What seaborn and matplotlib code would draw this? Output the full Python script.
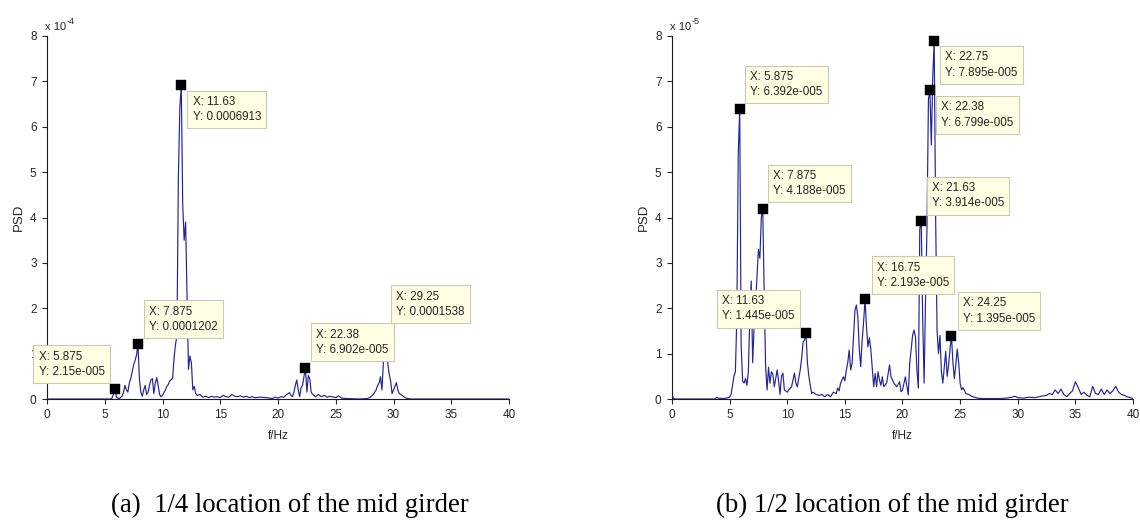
import matplotlib
matplotlib.use("Agg")
import matplotlib.pyplot as plt
from matplotlib.transforms import offset_copy
import numpy as np
import pandas as pd
import seaborn as sns

sns.set_style("ticks")
plt.rcParams["font.family"] = ["Liberation Sans", "DejaVu Sans"]

# ---------------- data: panel (a), PSD in units of 1e-4 ----------------
freq_a = [0.0, 5.5, 5.625, 5.75, 5.875, 6.0, 6.125, 6.25, 6.5, 6.625, 6.75, 6.875,
          7.0, 7.125, 7.25, 7.375, 7.5, 7.625, 7.75, 7.875, 8.0, 8.125, 8.25, 8.375,
          8.5, 8.625, 8.75, 8.875, 9.0, 9.125, 9.25, 9.375, 9.5, 9.625, 9.75, 9.875,
          10.0, 10.25, 10.375, 10.5, 10.625, 10.75, 10.875, 11.0, 11.125, 11.25,
          11.375, 11.5, 11.625, 11.75, 11.875, 12.0, 12.125, 12.25, 12.375, 12.5,
          12.625, 12.75, 12.875, 13.0, 13.25, 13.5, 13.75, 14.0, 14.25, 14.5, 14.75,
          15.0, 15.25, 15.5, 15.75, 16.0, 16.25, 16.5, 16.75, 17.0, 17.25, 17.5,
          17.75, 18.0, 18.5, 19.0, 19.5, 19.75, 20.0, 20.25, 20.5, 20.75, 21.0,
          21.125, 21.25, 21.375, 21.5, 21.625, 21.75, 21.875, 22.0, 22.125, 22.25,
          22.375, 22.5, 22.625, 22.75, 22.875, 23.0, 23.25, 23.5, 23.75, 24.0, 24.25,
          24.5, 25.0, 25.25, 25.5, 26.0, 27.0, 27.75, 28.0, 28.25, 28.5, 28.625,
          28.75, 28.875, 29.0, 29.125, 29.25, 29.375, 29.5, 29.625, 29.75, 29.875,
          30.0, 30.125, 30.25, 30.375, 30.5, 30.75, 31.0, 31.25, 31.5, 40.0]
psd_a = [0.0, 0.0, 0.02, 0.1, 0.215, 0.05, 0.02, 0.01, 0.06, 0.15, 0.3, 0.2,
         0.15, 0.35, 0.45, 0.6, 0.75, 0.85, 0.97, 1.202, 0.45, 0.15, 0.06, 0.2,
         0.3, 0.1, 0.15, 0.3, 0.42, 0.45, 0.12, 0.35, 0.47, 0.3, 0.1, 0.05,
         0.08, 0.2, 0.28, 0.32, 0.4, 0.42, 0.46, 0.9, 1.2, 1.4,
         4.9, 6.4, 6.913, 4.3, 3.5, 3.9, 2.3, 0.65, 0.95, 0.8,
         0.2, 0.28, 0.12, 0.08, 0.1, 0.04, 0.06, 0.03, 0.06, 0.04, 0.05,
         0.03, 0.08, 0.05, 0.04, 0.1, 0.06, 0.05, 0.07, 0.04, 0.06, 0.03,
         0.05, 0.03, 0.04, 0.03, 0.01, 0.04, 0.02, 0.05, 0.04, 0.1, 0.14,
         0.08, 0.05, 0.15, 0.3, 0.42, 0.2, 0.05, 0.25, 0.3, 0.5,
         0.69, 0.15, 0.52, 0.45, 0.15, 0.1, 0.05, 0.1, 0.05, 0.08, 0.04,
         0.06, 0.03, 0.07, 0.02, 0.01, 0.0, 0.01, 0.04, 0.1, 0.2, 0.3,
         0.35, 0.49, 0.2, 0.8, 1.538, 1.1, 0.8, 0.55, 0.4, 0.12,
         0.2, 0.28, 0.36, 0.2, 0.12, 0.08, 0.03, 0.01, 0.0, 0.0]
tip_f_a = [5.875, 7.875, 11.625, 22.375, 29.25]
tip_psd_a = [2.15e-5, 1.202e-4, 6.913e-4, 6.902e-5, 1.538e-4]
tip_text_a = ["X: 5.875\nY: 2.15e-005", "X: 7.875\nY: 0.0001202",
              "X: 11.63\nY: 0.0006913", "X: 22.38\nY: 6.902e-005",
              "X: 29.25\nY: 0.0001538"]
tip_box_a = [(-1.2, 1.19), (8.35, 2.18), (12.13, 6.80), (22.83, 1.67), (29.76, 2.51)]

# ---------------- data: panel (b), PSD in units of 1e-5 ----------------
freq_b = [0.0, 0.125, 0.25, 3.75, 3.875, 4.0, 4.5, 4.875, 5.0, 5.125, 5.25, 5.375,
          5.5, 5.625, 5.75, 5.875, 6.0, 6.125, 6.25, 6.375, 6.5, 6.625, 6.75, 6.875,
          7.0, 7.125, 7.25, 7.375, 7.5, 7.625, 7.75, 7.875, 8.0, 8.125, 8.25, 8.375,
          8.5, 8.625, 8.75, 8.875, 9.0, 9.125, 9.25, 9.375, 9.5, 9.625, 9.75, 10.0,
          10.125, 10.375, 10.625, 10.75, 10.875, 11.0, 11.125, 11.25, 11.375, 11.5,
          11.625, 11.75, 11.875, 12.0, 12.125, 12.25, 12.5, 12.75, 13.0, 13.25, 13.5,
          13.75, 14.0, 14.25, 14.375, 14.5, 14.625, 14.875, 15.0, 15.125, 15.25,
          15.375, 15.5, 15.625, 15.75, 15.875, 16.0, 16.125, 16.25, 16.375, 16.5,
          16.625, 16.75, 16.875, 17.0, 17.125, 17.25, 17.375, 17.5, 17.625, 17.75,
          17.875, 18.0, 18.125, 18.25, 18.375, 18.625, 18.875, 19.0, 19.25, 19.5,
          19.75, 19.875, 20.0, 20.125, 20.25, 20.5, 20.625, 20.75, 20.875, 21.0,
          21.125, 21.25, 21.375, 21.5, 21.625, 21.75, 21.875, 22.0, 22.125, 22.25,
          22.375, 22.5, 22.625, 22.75, 22.875, 23.0, 23.125, 23.25, 23.375, 23.5,
          23.625, 23.75, 23.875, 24.0, 24.125, 24.25, 24.375, 24.5, 24.625, 24.75,
          24.875, 25.0, 25.125, 25.25, 25.5, 25.75, 26.0, 26.5, 27.0, 28.0, 28.5,
          29.0, 29.5, 29.75, 30.0, 30.5, 31.0, 31.5, 32.0, 32.5, 32.75, 33.0, 33.25,
          33.5, 33.75, 34.0, 34.25, 34.5, 34.75, 35.0, 35.25, 35.5, 35.75, 36.0,
          36.25, 36.5, 36.75, 37.0, 37.25, 37.5, 37.75, 38.0, 38.25, 38.5, 38.75,
          39.0, 39.25, 39.5, 39.75, 40.0]
psd_b = [0.1, 0.02, 0.0, 0.0, 0.04, 0.02, 0.01, 0.03, 0.04, 0.1, 0.3, 0.5,
         0.6, 1.8, 5.4, 6.392, 1.2, 0.4, 0.35, 0.45, 0.3, 0.6, 1.8, 2.6,
         0.8, 1.6, 2.1, 2.7, 3.3, 3.1, 4.0, 4.188, 2.3, 0.7, 0.2, 0.7,
         0.35, 0.6, 0.55, 0.27, 0.45, 0.64, 0.4, 0.1, 0.5, 0.57, 0.2, 0.15,
         0.2, 0.27, 0.57, 0.35, 0.27, 0.45, 0.64, 0.9, 1.25, 1.3,
         1.445, 0.8, 0.5, 0.3, 0.12, 0.15, 0.1, 0.08, 0.1, 0.05, 0.1,
         0.05, 0.15, 0.12, 0.24, 0.18, 0.35, 0.49, 0.4, 0.64, 0.8,
         1.08, 0.64, 0.78, 1.37, 1.96, 2.07, 1.81, 1.1, 0.71, 1.3,
         1.7, 2.193, 1.6, 1.15, 1.35, 1.1, 0.7, 0.27, 0.56, 0.27,
         0.6, 0.42, 0.3, 0.49, 0.27, 0.35, 0.75, 0.49, 0.35, 0.27,
         0.38, 0.16, 0.2, 0.35, 0.49, 0.09, 0.78, 1.1, 1.4, 1.52,
         1.37, 0.64, 0.24, 3.75, 3.914, 1.8, 0.35, 2.2, 3.8, 6.6,
         6.799, 5.6, 7.1, 7.895, 4.0, 1.5, 1.0, 1.4, 0.6, 0.35,
         0.7, 1.05, 0.5, 0.75, 1.1, 1.395, 0.8, 0.45, 0.75, 1.1,
         0.8, 0.35, 0.2, 0.25, 0.12, 0.1, 0.06, 0.02, 0.01, 0.01, 0.01,
         0.02, 0.04, 0.06, 0.03, 0.02, 0.04, 0.03, 0.06, 0.08, 0.12, 0.1, 0.2,
         0.12, 0.22, 0.1, 0.05, 0.12, 0.18, 0.38, 0.25, 0.1, 0.15, 0.08,
         0.05, 0.28, 0.12, 0.1, 0.22, 0.1, 0.2, 0.12, 0.18, 0.28, 0.15,
         0.1, 0.08, 0.05, 0.03, 0.01]
tip_f_b = [5.875, 7.875, 11.625, 16.75, 22.75, 22.375, 21.625, 24.25]
tip_psd_b = [6.392e-5, 4.188e-5, 1.445e-5, 2.193e-5, 7.895e-5, 6.799e-5, 3.914e-5, 1.395e-5]
tip_text_b = ["X: 5.875\nY: 6.392e-005", "X: 7.875\nY: 4.188e-005",
              "X: 11.63\nY: 1.445e-005", "X: 16.75\nY: 2.193e-005",
              "X: 22.75\nY: 7.895e-005", "X: 22.38\nY: 6.799e-005",
              "X: 21.63\nY: 3.914e-005", "X: 24.25\nY: 1.395e-005"]
tip_box_b = [(6.31, 7.35), (8.30, 5.17), (3.88, 2.41), (17.29, 3.15),
             (23.25, 7.78), (22.87, 6.68), (22.08, 4.90), (24.76, 2.36)]

x_ticks = [0, 5, 10, 15, 20, 25, 30, 35, 40]
y_ticks = [0, 1, 2, 3, 4, 5, 6, 7, 8]
captions = ["(a)  1/4 location of the mid girder", "(b) 1/2 location of the mid girder"]

LINE = "#23239a"
TXT = "#262626"

fig = plt.figure(figsize=(11.4, 5.22), dpi=100)
ax_a = fig.add_axes([47 / 1140, 123 / 522, 462 / 1140, 363 / 522])
ax_b = fig.add_axes([672 / 1140, 123 / 522, 461 / 1140, 363 / 522])


def panel(ax, freq, psd, tip_f, tip_psd, tip_text, tip_box, exp):
    scale = 10.0 ** exp
    df = pd.DataFrame({"f": freq, "psd": psd})
    sns.lineplot(data=df, x="f", y="psd", ax=ax, color=LINE, linewidth=0.85,
                 estimator=None, sort=True, zorder=3)
    tips = pd.DataFrame({"f": tip_f, "psd": np.array(tip_psd) / scale})
    sns.scatterplot(data=tips, x="f", y="psd", ax=ax, marker="s", color="black",
                    s=44, edgecolor="black", linewidth=0.3, zorder=4, clip_on=False)
    tr = offset_copy(ax.transData, fig=fig, x=5.5, y=-5.5, units="dots")
    for (bx, by), txt in zip(tip_box, tip_text):
        ax.text(bx, by, txt, transform=tr, ha="left", va="top", fontsize=8.4,
                linespacing=1.35, color=TXT, zorder=6, clip_on=False,
                bbox=dict(boxstyle="square,pad=0.45", facecolor="#ffffe3",
                          edgecolor="#c9c9b4", linewidth=0.8))
    ax.set_xlim(0, 40)
    ax.set_ylim(0, 8)
    ax.set_xticks(x_ticks)
    ax.set_yticks(y_ticks)
    ax.set_xticklabels([str(v) for v in x_ticks])
    ax.set_yticklabels([str(v) for v in y_ticks])
    ax.set_xlabel("f/Hz", fontsize=8.5, color=TXT, labelpad=6)
    ax.set_ylabel("PSD", fontsize=9.5, color=TXT, labelpad=4)
    ax.tick_params(direction="out", length=3.5, width=0.8, colors=TXT,
                   labelsize=8.5, pad=4)
    sns.despine(ax=ax)
    for s in ("left", "bottom"):
        ax.spines[s].set_color("#1a1a1a")
        ax.spines[s].set_linewidth(0.8)
    tr2 = offset_copy(ax.transAxes, fig=fig, x=-2, y=6, units="dots")
    ax.text(0, 1, "x 10", transform=tr2, ha="left", va="baseline",
            fontsize=8, color=TXT)
    tr3 = offset_copy(ax.transAxes, fig=fig, x=20, y=12, units="dots")
    ax.text(0, 1, str(exp), transform=tr3, ha="left", va="baseline",
            fontsize=6.5, color=TXT)


panel(ax_a, freq_a, psd_a, tip_f_a, tip_psd_a, tip_text_a, tip_box_a, -4)
panel(ax_b, freq_b, psd_b, tip_f_b, tip_psd_b, tip_text_b, tip_box_b, -5)

fig.text(290 / 1140, 1 - 512 / 522, captions[0], ha="center", va="baseline",
         fontsize=19.3, family=["Liberation Serif", "DejaVu Serif"], color="black")
fig.text(892 / 1140, 1 - 512 / 522, captions[1], ha="center", va="baseline",
         fontsize=19.3, family=["Liberation Serif", "DejaVu Serif"], color="black")

fig.savefig("out.png", dpi=100)
